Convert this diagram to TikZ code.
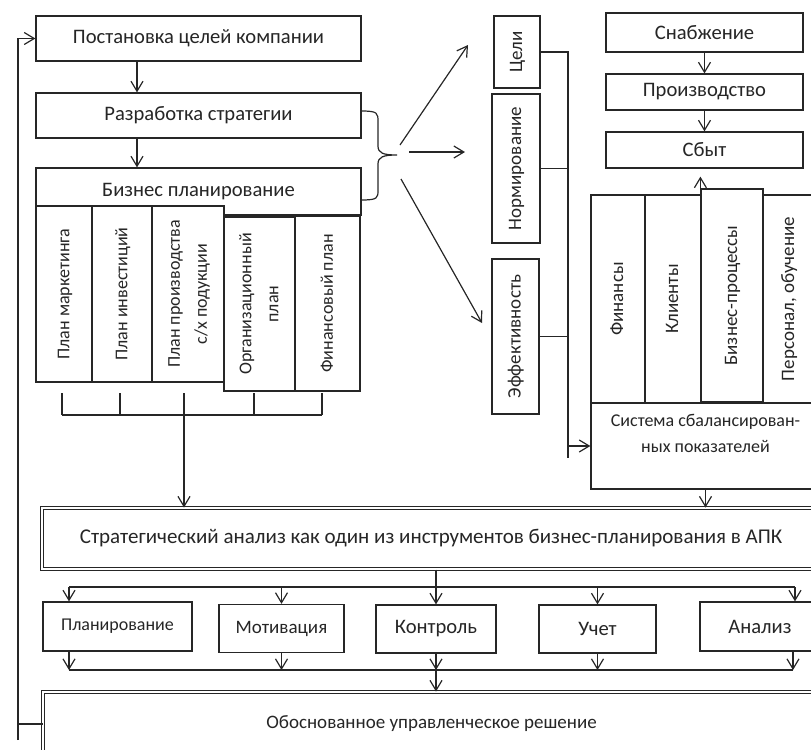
\documentclass[tikz,border=0pt]{standalone}
\usepackage{fontspec}
\setmainfont{Carlito}
\usetikzlibrary{arrows.meta,calc}
\definecolor{ink}{HTML}{262626}
\newcommand{\vtxt}[1]{\rotatebox{90}{\begin{tabular}{@{}c@{}}#1\end{tabular}}}
\tikzset{
  box/.style={draw=ink,fill=white,line width=0.6pt,inner sep=0pt,
              align=center,text=ink,font=\fontsize{10.3}{12}\selectfont},
  subbox/.style={box,font=\fontsize{9}{13.5}\selectfont},
  vbox/.style={box,font=\fontsize{9.5}{13}\selectfont},
  pbox/.style={box,minimum height=24pt},
  dblbox/.style={box,double,double distance=1pt,line width=0.5pt},
  conn/.style={draw=ink,line width=0.6pt},
  arr/.style={conn,-{Straight Barb[length=5pt,width=6pt]}},
  bus/.style={draw=ink,line width=1pt}
}

\begin{document}
\begin{tikzpicture}[x=0.5pt,y=-0.5pt]
  \useasboundingbox (0,0) rectangle (811,750);
  % left column
  \node[box,minimum width=162.5pt,minimum height=22.5pt] (goals) at (198.5,38.5) {Постановка целей компании};
  \node[box,minimum width=162.5pt,minimum height=22.5pt] (strategy) at (198.5,115.5) {Разработка стратегии};
  \node[box,minimum width=162.5pt,minimum height=23.5pt] (bplan) at (198.5,191.5) {Бизнес планирование};
  \node[subbox,minimum width=28pt,minimum height=88pt] (mkt) at (64,294) {\vtxt{План маркетинга}};
  \node[subbox,minimum width=30pt,minimum height=88pt] (inv) at (122,294) {\vtxt{План инвестиций}};
  \node[subbox,minimum width=36pt,minimum height=88pt] (prod) at (188,294) {\vtxt{План производства\\с/х подукции}};
  \node[subbox,minimum width=35.5pt,minimum height=87pt] (org) at (259.5,304) {\vtxt{Организационный\\план}};
  \node[subbox,minimum width=32.5pt,minimum height=87.5pt] (fin) at (327.5,303.5) {\vtxt{Финансовый план}};

  % middle column
  \node[vbox,minimum width=23pt,minimum height=36pt] (aims) at (517,52) {\vtxt{Цели}};
  \node[vbox,minimum width=24pt,minimum height=74.5pt] (norm) at (516,168.5) {\vtxt{Нормирование}};
  \node[vbox,minimum width=23.5pt,minimum height=77.5pt] (eff) at (515.5,336.5) {\vtxt{Эффективность}};

  % right column
  \node[box,minimum width=98.5pt,minimum height=19.5pt] (supply) at (704.5,32.5) {Снабжение};
  \node[box,minimum width=98.5pt,minimum height=18pt] (output) at (704.5,92) {Производство};
  \node[box,minimum width=98.5pt,minimum height=18pt] (sales) at (704.5,150) {Сбыт};
  \node[vbox,minimum width=27pt,minimum height=104pt] (money) at (618,299) {\vtxt{Финансы}};
  \node[vbox,minimum width=28pt,minimum height=104pt] (clients) at (673,299) {\vtxt{Клиенты}};
  \node[vbox,minimum width=31pt,minimum height=106.5pt] (process) at (732,295.5) {\vtxt{Бизнес-процессы}};
  \node[vbox,minimum width=26pt,minimum height=104pt] (staff) at (789,299) {\vtxt{Персонал, обучение}};
  \node[subbox,font=\fontsize{9}{13}\selectfont,minimum width=114.5pt,minimum height=43pt] (bsc) at (705.5,446)
    {Система сбалансирован-\\ных показателей\\ \mbox{}};

  % lower part
  \node[dblbox,font=\fontsize{10.5}{12}\selectfont,minimum width=389pt,minimum height=30.5pt] (strat) at (431,538.5)
    {Стратегический анализ как один из инструментов бизнес-планирования в АПК};
  \node[pbox,font=\fontsize{9}{11}\selectfont,minimum width=74.5pt,minimum height=24.5pt] (plan) at (117.5,626.5) {Планирование};
  \node[pbox,font=\fontsize{9.5}{11}\selectfont,minimum width=62.5pt] (motiv) at (281.5,628.5) {Мотивация};
  \node[pbox,minimum width=60pt] (ctrl) at (436,629) {Контроль};
  \node[pbox,minimum width=58.5pt] (acct) at (597.5,629) {Учет};
  \node[pbox,minimum width=60pt,minimum height=24.5pt] (anl) at (760,626.5) {Анализ};
  \node[dblbox,font=\fontsize{9.5}{11}\selectfont,minimum width=388.5pt,minimum height=32pt] (decision) at (431.5,724)
    {Обоснованное управленческое решение};

  % connectors
  \coordinate (ax) at (137,0);
  \draw[arr] (goals.south -| ax) -- (strategy.north -| ax);
  \draw[arr] (strategy.south -| ax) -- (bplan.north -| ax);

  \foreach \x in {62,120,184,254,322} \draw[conn] (\x,393) -- (\x,415);
  \draw[conn] (62,415) -- (322,415);
  \coordinate (bj) at (184,415);
  \draw[arr] (bj) -- (bj |- strat.north);

  \draw[conn] (361,111) .. controls (378,111) and (378,113) .. (378,122) -- (378,146)
    .. controls (378,153) and (383,155) .. (397,155)
    .. controls (383,155) and (378,157) .. (378,164) -- (378,190)
    .. controls (378,198) and (378,200) .. (361,200);
  \coordinate (t1) at (400,145);
  \coordinate (t2) at (409,152);
  \coordinate (t3) at (401,179);
  \coordinate (h1) at (468,45);
  \coordinate (h2) at (465,152);
  \coordinate (h3) at (482,323);
  \draw[arr] (t1) -- (h1);
  \draw[arr] (t2) -- (h2);
  \draw[arr] (t3) -- (h3);

  \coordinate (sp) at (568,458);
  \draw[conn] (aims.east) -| (sp);
  \draw[conn] (norm.east) -- (norm.east -| sp);
  \draw[conn] (eff.east) -- (eff.east -| sp);
  \draw[arr] (bsc.west -| sp) -- (bsc.west);

  \draw[arr] (supply) -- (output);
  \draw[arr] (output) -- (sales);
  \draw[arr,shorten >=4pt] (process.north west) -- (process.north west |- sales.south);
  \draw[arr] (bsc.south) -- (bsc.south |- strat.north);

  % distribution to the five functions
  \coordinate (dl) at (69,587);
  \coordinate (dr) at (795,587);
  \draw[conn] (ctrl.north |- strat.south) -- (ctrl.north |- dl);
  \draw[bus] (dl) -- (dr);
  \draw[arr] (dl) -- (dl |- plan.north);
  \foreach \n in {motiv,ctrl,acct} \draw[arr] (\n.north |- dl) -- (\n.north);
  \draw[arr] (dr) -- (dr |- anl.north);

  \coordinate (cl) at (69,670);
  \coordinate (cr) at (793,670);
  \draw[arr] (plan.south -| cl) -- (cl);
  \foreach \n in {motiv,ctrl,acct} \draw[arr] (\n.south) -- (\n.south |- cl);
  \draw[arr] (anl.south -| cr) -- (cr);
  \draw[bus] (cl) -- (cr);
  \draw[arr] (ctrl.south |- cl) -- (ctrl.south |- decision.north);

  % feedback loop
  \coordinate (fb) at (18,740);
  \draw[conn] (decision.west) -- (decision.west -| fb);
  \draw[arr] (fb) |- (goals.west);
\end{tikzpicture}
\end{document}
